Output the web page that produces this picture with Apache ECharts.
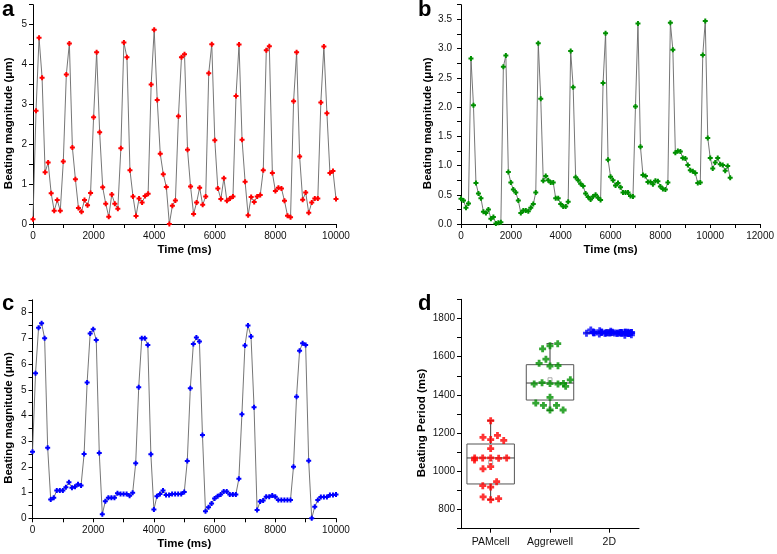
<!DOCTYPE html>
<html>
<head>
<meta charset="utf-8">
<script src="https://cdn.jsdelivr.net/npm/echarts@6/dist/echarts.min.js"></script>
<style>
html,body{margin:0;padding:0;background:#fff;}
#c{width:777px;height:554px;}
</style>
</head>
<body>
<div id="c"></div>
<script>
// ---- data ----
var sampleIntervalMs = 100;
var magA = [0.12,2.84,4.67,3.67,1.30,1.54,0.77,0.33,0.60,0.33,
 1.57,3.75,4.53,1.92,1.12,0.40,0.31,0.60,0.47,0.78,
 2.68,4.31,2.30,0.92,0.51,0.18,0.74,0.51,0.38,1.90,
 4.55,4.18,1.35,0.69,0.20,0.64,0.54,0.70,0.76,3.50,
 4.87,3.11,1.76,1.25,0.93,0.00,0.46,0.59,2.70,4.18,
 4.26,1.86,0.94,0.25,0.54,0.91,0.48,0.69,3.78,4.51,
 2.10,0.89,0.63,1.15,0.58,0.64,0.69,3.21,4.50,2.11,
 1.06,0.22,0.68,0.55,0.69,0.73,1.35,4.36,4.46,1.28,
 0.83,0.91,0.89,0.58,0.21,0.17,3.08,4.31,1.69,0.61,
 0.79,0.28,0.54,0.64,0.64,3.05,4.45,2.78,1.28,1.33,
 0.63];
var magB = [0.43,0.40,0.28,0.35,2.83,2.03,0.70,0.52,0.44,0.21,
 0.19,0.25,0.09,0.12,0.01,0.02,0.03,2.69,2.88,0.89,
 0.71,0.59,0.54,0.40,0.19,0.23,0.23,0.22,0.28,0.34,
 0.54,3.09,2.14,0.74,0.82,0.75,0.71,0.71,0.44,0.44,
 0.34,0.30,0.30,0.38,2.96,2.34,0.80,0.75,0.69,0.65,
 0.52,0.46,0.42,0.47,0.50,0.45,0.41,2.41,3.26,1.10,
 0.81,0.75,0.66,0.70,0.63,0.54,0.54,0.54,0.48,0.47,
 2.01,3.43,1.32,0.84,0.82,0.72,0.72,0.68,0.74,0.73,
 0.64,0.60,0.59,0.71,3.44,2.98,1.22,1.25,1.24,1.13,
 1.12,1.01,0.92,0.90,0.87,0.70,0.71,2.89,3.47,1.47,
 1.13,0.95,1.05,1.13,1.02,1.01,0.91,0.99,0.79];
var magC = [2.59,5.64,7.41,7.59,7.00,2.74,0.73,0.80,1.08,1.08,
 1.08,1.21,1.40,1.19,1.23,1.32,1.28,2.50,5.28,7.19,
 7.35,6.94,2.54,0.16,0.66,0.80,0.80,0.80,0.97,0.95,
 0.95,0.95,0.88,0.99,2.14,5.10,7.00,7.00,6.74,2.49,
 0.34,0.86,0.95,1.08,0.91,0.91,0.95,0.95,0.95,0.95,
 1.02,2.23,5.06,6.78,7.03,6.88,3.24,0.27,0.43,0.58,
 0.77,0.86,0.93,1.04,1.04,0.93,0.93,0.93,1.54,4.05,
 6.72,7.50,7.07,4.32,0.32,0.65,0.69,0.84,0.84,0.89,
 0.84,0.71,0.71,0.71,0.71,0.71,2.01,4.73,6.52,6.81,
 6.74,2.24,0.00,0.45,0.71,0.83,0.83,0.83,0.91,0.91,
 0.93];
var groups = ['PAMcell','Aggrewell','2D'];
var periodPAM = [1070,1025,1166,1070,1178,918,852,1068,1265,1188,925,866,1070,1162,946,857,1013,1119,1070,1060];
var periodAgg = [1459,1387,1464,1551,1321,1657,1587,1345,1641,1457,1457,1553,1345,1445,1668,1565,1357,1460,1321,1479];
var period2D = [1724,1726,1723,1727,1725,1722,1728,1724,1726,1725,1723,1727,1721,1729,1725,1724,1736,1740,1733,1726,
 1724,1727,1723,1725,1714,1712,1718,1726,1724,1725,1727,1723,1726,1724,1725,1722];
var boxMin = [852,1319,1712];
var boxQ1 = [934,1373,1722];
var boxMedian = [1070,1462,1725];
var boxQ3 = [1143,1558,1728];
var boxMax = [1265,1668,1740];
var boxMean = [1047,1479,1727];

// ---- helpers ----
function toPairs(arr){ return arr.map(function(v,i){ return [i*sampleIntervalMs, v]; }); }
var FONT = 'Liberation Sans, Arial, sans-serif';
var plusPath = 'path://M3,0h4v3h3v4h-3v3h-4v-3h-3v-4h3z';
var axisLineStyle = {show:true, lineStyle:{color:'#000', width:1}};
var tick = {show:true, length:4, lineStyle:{color:'#000'}};
function xTime(idx, max){
  return {gridIndex:idx, type:'value', min:0, max:max, interval:1000,
    axisLine:axisLineStyle, axisTick:tick, splitLine:{show:false},
    axisLabel:{fontSize:10, color:'#111', fontFamily:FONT, margin:7,
      formatter:function(v){ return v%2000===0 ? String(v) : ''; }},
    name:'Time (ms)', nameLocation:'middle', nameGap:20,
    nameTextStyle:{fontSize:11.5, fontWeight:'bold', color:'#000', fontFamily:FONT}};
}
function yAxisCfg(idx, min, max, interval, fmt, name, gap, margin){
  return {gridIndex:idx, type:'value', min:min, max:max, interval:interval,
    axisLine:axisLineStyle, axisTick:tick, splitLine:{show:false},
    axisLabel:{fontSize:10, color:'#111', fontFamily:FONT, margin:margin, formatter:fmt},
    name:name, nameLocation:'middle', nameGap:gap,
    nameTextStyle:{fontSize:11.5, fontWeight:'bold', color:'#000', fontFamily:FONT, padding:[0,18,0,0]}};
}
function lineSeries(idx, arr, color){
  return {type:'line', xAxisIndex:idx, yAxisIndex:idx, data:toPairs(arr),
    symbol:plusPath, symbolSize:5, showAllSymbol:true,
    lineStyle:{color:'#666', width:0.9}, itemStyle:{color:color}, z:2};
}
function letter(t, l, tp){
  return {text:t, left:l, top:tp, textStyle:{fontSize:22, fontWeight:'bold', color:'#000', fontFamily:FONT}, padding:0};
}
var boxData = groups.map(function(g,i){ return [i, boxMin[i], boxQ1[i], boxMedian[i], boxQ3[i], boxMax[i], boxMean[i]]; });
function renderBox(params, api){
  var i = api.value(0);
  var w = api.size([1,0])[0]*0.8;
  var cap = 7;
  var pMin = api.coord([i, api.value(1)]);
  var pQ1 = api.coord([i, api.value(2)]);
  var pMed = api.coord([i, api.value(3)]);
  var pQ3 = api.coord([i, api.value(4)]);
  var pMax = api.coord([i, api.value(5)]);
  var pMean = api.coord([i, api.value(6)]);
  var x = pQ1[0];
  var st = {stroke:'#3a3a3a', lineWidth:1, fill:null};
  return {type:'group', children:[
    {type:'rect', shape:{x:x-w/2, y:pQ3[1], width:w, height:pQ1[1]-pQ3[1]}, style:{stroke:'#555', lineWidth:1, fill:'none'}},
    {type:'line', shape:{x1:x-w/2, y1:pMed[1], x2:x+w/2, y2:pMed[1]}, style:st},
    {type:'line', shape:{x1:x, y1:pQ3[1], x2:x, y2:pMax[1]}, style:st},
    {type:'line', shape:{x1:x, y1:pQ1[1], x2:x, y2:pMin[1]}, style:st},
    {type:'line', shape:{x1:x-cap/2, y1:pMax[1], x2:x+cap/2, y2:pMax[1]}, style:st},
    {type:'line', shape:{x1:x-cap/2, y1:pMin[1], x2:x+cap/2, y2:pMin[1]}, style:st},
    {type:'rect', shape:{x:pMean[0]-2, y:pMean[1]-2, width:4, height:4}, style:{stroke:'#999', lineWidth:0.8, fill:'#fff'}, z2:20}
  ]};
}

var chart = echarts.init(document.getElementById('c'), null, {renderer:'canvas'});
chart.setOption({
  animation:false,
  backgroundColor:'#fff',
  title:[letter('a',2,-1), letter('b',418,-1), letter('c',2,293), letter('d',418,293)],
  grid:[
    {left:33, top:4.7, width:303, height:219.3},
    {left:461, top:4.7, width:304, height:219.3},
    {left:32.5, top:299.8, width:303.5, height:218.5},
    {left:461, top:299.3, width:178, height:229.4}
  ],
  xAxis:[
    xTime(0,10000), xTime(1,12000), xTime(2,10000),
    {gridIndex:3, type:'category', data:groups, jitter:46, jitterOverlap:false, jitterMargin:1,
      axisLine:axisLineStyle, axisTick:{show:true, length:4, alignWithLabel:true, lineStyle:{color:'#000'}},
      axisLabel:{interval:0, fontSize:10.5, color:'#111', fontFamily:FONT, margin:8}}
  ],
  yAxis:[
    yAxisCfg(0,0,5.5,0.5,function(v){ return Number.isInteger(v) ? String(v) : ''; },'Beating magnitude (\u03bcm)',18,6),
    yAxisCfg(1,0,3.75,0.25,function(v){ return Math.abs(v*2-Math.round(v*2))<1e-9 ? v.toFixed(1) : ''; },'Beating magnitude (\u03bcm)',25,9),
    yAxisCfg(2,0,8.5,0.5,function(v){ return Number.isInteger(v) ? String(v) : ''; },'Beating magnitude (\u03bcm)',18,6),
    yAxisCfg(3,700,1900,100,function(v){ return (v%200===0 && v>=800 && v<=1800) ? String(v) : ''; },'Beating Period (ms)',33,6)
  ],
  series:[
    lineSeries(0, magA, '#ff0000'),
    lineSeries(1, magB, '#009000'),
    lineSeries(2, magC, '#0000ff'),
    {type:'custom', xAxisIndex:3, yAxisIndex:3, data:boxData, renderItem:renderBox,
      encode:{x:0, y:[1,2,3,4,5]}, z:1},
    {type:'scatter', xAxisIndex:3, yAxisIndex:3, symbol:plusPath, symbolSize:7,
      itemStyle:{color:'#ff0000'}, data:periodPAM.map(function(v){ return [0,v]; }), z:3},
    {type:'scatter', xAxisIndex:3, yAxisIndex:3, symbol:plusPath, symbolSize:7,
      itemStyle:{color:'#009000'}, data:periodAgg.map(function(v){ return [1,v]; }), z:3},
    {type:'scatter', xAxisIndex:3, yAxisIndex:3, symbol:plusPath, symbolSize:7,
      itemStyle:{color:'#0000ff'}, data:period2D.map(function(v){ return [2,v]; }), z:3}
  ]
});
</script>
</body>
</html>
